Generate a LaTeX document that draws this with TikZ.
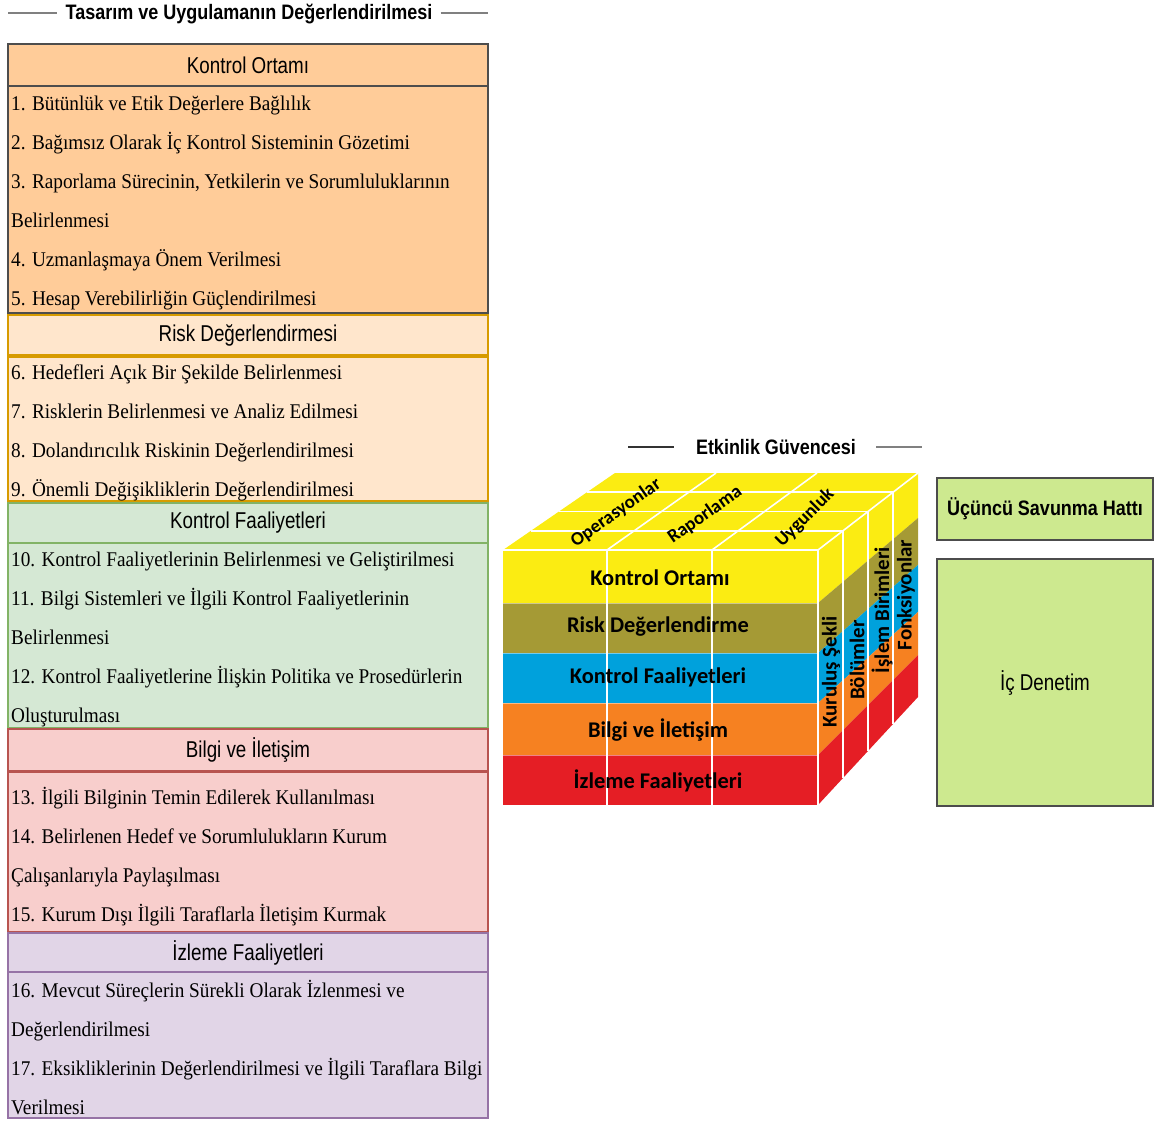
\documentclass[tikz,border=0pt]{standalone}
\usepackage{fontspec}
\setmainfont{Liberation Serif}
\newfontfamily\listfont[FakeStretch=0.92]{Liberation Serif}
\newfontfamily\headfont[FakeStretch=0.82]{Liberation Sans}
\newfontfamily\titlefont[FakeStretch=0.86]{Liberation Sans}
\newfontfamily\cubefont{Carlito}

% section colours
\definecolor{koFill}{HTML}{FFCC99}\definecolor{koLine}{HTML}{4D4D4D}
\definecolor{rdFill}{HTML}{FFE6CC}\definecolor{rdLine}{HTML}{D79B00}
\definecolor{kfFill}{HTML}{D5E8D4}\definecolor{kfLine}{HTML}{82B366}
\definecolor{biFill}{HTML}{F8CECC}\definecolor{biLine}{HTML}{B85450}
\definecolor{izFill}{HTML}{E1D5E7}\definecolor{izLine}{HTML}{9673A6}
% cube colours
\definecolor{cYellow}{HTML}{FBEC12}
\definecolor{cOlive}{HTML}{A59A35}
\definecolor{cBlue}{HTML}{00A1DC}
\definecolor{cOrange}{HTML}{F68121}
\definecolor{cRed}{HTML}{E51E25}
\definecolor{lineGreen}{HTML}{CDE98F}
\definecolor{rule}{HTML}{808080}

\newcommand{\listlines}[3]{%
  \foreach \t [count=\i] in {#3}
    \node[itemtext] (#1\i) at (11,{#2+39*(\i-1)}) {\t};%
}

\begin{document}
\begin{tikzpicture}[x=1bp,y=-1bp,
  hdr/.style={draw, line width=1.5bp, minimum width=480bp, inner sep=0,
    font=\headfont\fontsize{23}{23}\selectfont},
  bodybox/.style={draw, line width=1.5bp, minimum width=480bp, inner sep=0},
  itemtext/.style={anchor=base west, inner sep=0,
    font=\listfont\fontsize{21}{21}\selectfont},
  heading/.style={inner sep=0, font=\titlefont\bfseries\fontsize{21}{21}\selectfont},
  cubelbl/.style={inner sep=0, font=\cubefont\bfseries\fontsize{22.5}{22.5}\selectfont},
  sidelbl/.style={inner sep=0, font=\cubefont\bfseries\fontsize{21}{21}\selectfont},
  toplbl/.style={inner sep=0, font=\cubefont\bfseries\fontsize{19}{19}\selectfont},
  gridline/.style={white, line width=1.6bp},
  greenbox/.style={draw=black!70, line width=1.3bp, fill=lineGreen,
    minimum width=216bp, inner sep=0}
]
\useasboundingbox (0,0) rectangle (1159,1122);

% ---------- left column ----------
\node[heading] (title) at (249,14) {Tasarım ve Uygulamanın Değerlendirilmesi};
\draw[rule, line width=2.5bp] (8,13) -- ([xshift=-8bp]title.west |- 0,13);
\draw[rule, line width=2.5bp] ([xshift=8bp]title.east |- 0,13) -- (488,13);

\node[hdr, fill=koFill, draw=koLine, minimum height=42bp] (koH) at (248,65) {Kontrol Ortamı};
\node[bodybox, fill=koFill, draw=koLine, minimum height=227bp] (koB) at (248,199.5) {};
\node[hdr, fill=rdFill, draw=rdLine, line width=2bp, minimum height=40bp] (rdH) at (248,335) {Risk Değerlendirmesi};
\node[bodybox, fill=rdFill, draw=rdLine, line width=2bp, minimum height=144bp] (rdB) at (248,429) {};
\node[hdr, fill=kfFill, draw=kfLine, minimum height=40bp] (kfH) at (248,523) {Kontrol Faaliyetleri};
\node[bodybox, fill=kfFill, draw=kfLine, minimum height=185bp] (kfB) at (248,635.5) {};
\node[hdr, fill=biFill, draw=biLine, minimum height=42bp] (biH) at (248,750) {Bilgi ve İletişim};
\node[bodybox, fill=biFill, draw=biLine, minimum height=160bp] (biB) at (248,852) {};
\node[hdr, fill=izFill, draw=izLine, minimum height=39bp] (izH) at (248,952.5) {İzleme Faaliyetleri};
\node[bodybox, fill=izFill, draw=izLine, minimum height=146bp] (izB) at (248,1045) {};

\listlines{ko}{110}{{1. Bütünlük ve Etik Değerlere Bağlılık},
  {2. Bağımsız Olarak İç Kontrol Sisteminin Gözetimi},
  {3. Raporlama Sürecinin, Yetkilerin ve Sorumluluklarının},
  {Belirlenmesi},
  {4. Uzmanlaşmaya Önem Verilmesi},
  {5. Hesap Verebilirliğin Güçlendirilmesi}}
\listlines{rd}{379}{{6. Hedefleri Açık Bir Şekilde Belirlenmesi},
  {7. Risklerin Belirlenmesi ve Analiz Edilmesi},
  {8. Dolandırıcılık Riskinin Değerlendirilmesi},
  {9. Önemli Değişikliklerin Değerlendirilmesi}}
\listlines{kf}{566}{{10. Kontrol Faaliyetlerinin Belirlenmesi ve Geliştirilmesi},
  {11. Bilgi Sistemleri ve İlgili Kontrol Faaliyetlerinin},
  {Belirlenmesi},
  {12. Kontrol Faaliyetlerine İlişkin Politika ve Prosedürlerin},
  {Oluşturulması}}
\listlines{bi}{804}{{13. İlgili Bilginin Temin Edilerek Kullanılması},
  {14. Belirlenen Hedef ve Sorumlulukların Kurum},
  {Çalışanlarıyla Paylaşılması},
  {15. Kurum Dışı İlgili Taraflarla İletişim Kurmak}}
\listlines{iz}{997}{{16. Mevcut Süreçlerin Sürekli Olarak İzlenmesi ve},
  {Değerlendirilmesi},
  {17. Eksikliklerinin Değerlendirilmesi ve İlgili Taraflara Bilgi},
  {Verilmesi}}

% ---------- cube ----------
\node[heading] (etk) at (776,447) {Etkinlik Güvencesi};
\draw[black!80, line width=1.8bp] (628,447) -- ([xshift=-22bp]etk.west |- 0,447);
\draw[rule, line width=2.5bp] ([xshift=20bp]etk.east |- 0,447) -- (922,447);

% top face
\fill[cYellow] (503,550) -- (615,473) -- (918,473) -- (818,550) -- cycle;
% front face bands
\fill[cYellow] (503,550) rectangle (818,603);
\fill[cOlive]  (503,603) rectangle (818,653);
\fill[cBlue]   (503,653) rectangle (818,703);
\fill[cOrange] (503,703) rectangle (818,755);
\fill[cRed]    (503,755) rectangle (818,805);
% side face bands
\fill[cYellow] (818,550) -- (918,473) -- (918,518) -- (818,603) -- cycle;
\fill[cOlive]  (818,603) -- (918,518) -- (918,565) -- (818,653) -- cycle;
\fill[cBlue]   (818,653) -- (918,565) -- (918,612) -- (818,703) -- cycle;
\fill[cOrange] (818,703) -- (918,612) -- (918,655) -- (818,755) -- cycle;
\fill[cRed]    (818,755) -- (918,655) -- (918,697) -- (818,805) -- cycle;

% band seams
\foreach \y in {603,653,703,755}
  \draw[white, opacity=0.45, line width=0.8bp] (503,\y) -- (818,\y);
% grid on the cube
\draw[gridline] (607,550) -- (607,805);
\draw[gridline] (712,550) -- (712,805);
\draw[gridline] (503,550) -- (818,550) -- (918,473);
\draw[gridline] (818,550) -- (818,805);
\foreach \t in {0.25,0.5,0.75}{
  \draw[gridline] ({503+112*\t},{550-77*\t}) -- ({818+100*\t},{550-77*\t});
  \draw[gridline] ({818+100*\t},{550-77*\t}) -- ({818+100*\t},{805-108*\t});
}
\draw[gridline] (607,550) -- (716,473);
\draw[gridline] (712,550) -- (817,473);

% cube labels
\node[cubelbl] (cKO) at (660,578) {Kontrol Ortamı};
\node[cubelbl] (cRD) at (658,627) {Risk Değerlendirme};
\node[cubelbl] (cKF) at (658,677) {Kontrol Faaliyetleri};
\node[cubelbl] (cBI) at (658,730) {Bilgi ve İletişim};
\node[cubelbl] (cIZ) at (658,781) {İzleme Faaliyetleri};
\node[toplbl, rotate=35] (tOp) at (616,513) {Operasyonlar};
\node[toplbl, rotate=35] (tRa) at (705,515) {Raporlama};
\node[toplbl, rotate=45] (tUy) at (805,518) {Uygunluk};
\node[sidelbl, rotate=90] (sKS) at (831,672) {Kuruluş Şekli};
\node[sidelbl, rotate=90] (sBo) at (857,660) {Bölümler};
\node[sidelbl, rotate=90] (sIB) at (882,610) {İşlem Birimleri};
\node[sidelbl, rotate=90] (sFo) at (906,595) {Fonksiyonlar};

% ---------- right column ----------
\node[greenbox, minimum height=62bp, font=\titlefont\bfseries\fontsize{21}{21}\selectfont]
  (ucH) at (1045,509) {Üçüncü Savunma Hattı};
\node[greenbox, minimum height=247bp, font=\headfont\fontsize{23}{23}\selectfont]
  (icD) at (1045,682.5) {İç Denetim};
\end{tikzpicture}
\end{document}
